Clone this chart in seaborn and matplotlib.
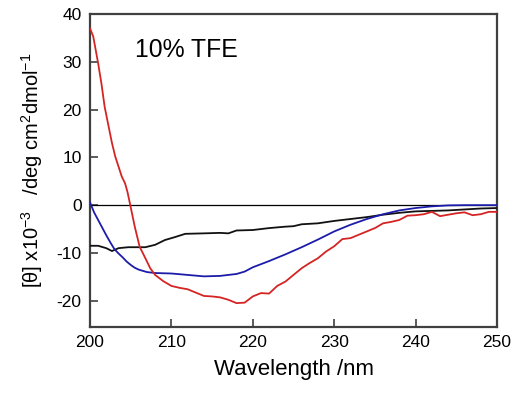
import pandas as pd
import seaborn as sns
from matplotlib import pyplot as plt

# CD spectra, 10% TFE  (wavelength nm, [theta] x10^-3)
red_wl = [200, 200.4, 201, 201.4, 201.8, 202.2, 202.7, 203.1, 203.5, 203.9, 204.3, 204.6,
          204.9, 205.5, 206.1, 206.8, 207.4, 208, 209, 210, 211, 212, 213, 214, 215, 216,
          217, 218, 219, 220, 221, 222, 223, 224, 225, 226, 227, 228, 229, 230, 231, 232,
          233, 234, 235, 236, 237, 238, 239, 240, 241, 242, 243, 244, 245, 246, 247, 248,
          249, 250]
red_val = [37.0, 35.3, 29.7, 25.5, 20.6, 17.2, 13.0, 10.2, 8.1, 6.0, 4.6, 2.8,
           0.4, -4.5, -8.7, -11.1, -13.2, -14.6, -15.9, -16.9, -17.3, -17.6, -18.3, -19.0,
           -19.1, -19.3, -19.8, -20.5, -20.4, -19.1, -18.4, -18.5, -16.9, -16.0, -14.6,
           -13.2, -12.1, -11.1, -9.7, -8.6, -7.1, -6.9, -6.2, -5.5, -4.8, -3.8, -3.5, -3.1,
           -2.2, -2.1, -1.9, -1.4, -2.3, -2.0, -1.7, -1.5, -2.1, -1.9, -1.4, -1.4]

blue_wl = [200, 200.5, 201, 201.5, 202, 202.5, 203, 203.5, 204, 204.5, 205, 205.5, 206,
           207, 208, 210, 212, 214, 216, 218, 219, 220, 222, 224, 226, 228, 230, 232, 234,
           236, 238, 240, 242, 244, 246, 248, 250]
blue_val = [0.6, -1.5, -3.1, -4.7, -6.3, -7.8, -9.2, -10.1, -10.9, -11.8, -12.5, -13.1,
            -13.5, -14.0, -14.2, -14.3, -14.6, -14.9, -14.8, -14.4, -13.9, -13.0, -11.7,
            -10.3, -8.8, -7.2, -5.5, -4.1, -2.9, -1.9, -1.1, -0.6, -0.25, -0.05, 0.0, 0.0,
            0.0]

black_wl = [200, 201, 202, 202.7, 203.5, 204.7, 206.8, 208, 209.2, 210.4, 211.7, 214, 216,
            217, 218, 220, 222, 224, 225, 226, 228, 230, 232, 234, 236, 238, 240, 242, 244,
            246, 248, 250]
black_val = [-8.5, -8.5, -9.0, -9.6, -9.0, -8.8, -8.8, -8.3, -7.3, -6.7, -6.0, -5.9, -5.8,
             -5.9, -5.3, -5.2, -4.8, -4.5, -4.4, -4.0, -3.8, -3.3, -2.9, -2.5, -2.0, -1.6,
             -1.3, -1.2, -1.1, -0.9, -0.7, -0.6]

xticks = [200, 210, 220, 230, 240, 250]
yticks = [-20, -10, 0, 10, 20, 30, 40]

frames = []
for name, wl, val in [("black", black_wl, black_val), ("blue", blue_wl, blue_val), ("red", red_wl, red_val)]:
    frames.append(pd.DataFrame({"wl": wl, "theta": val, "sample": name}))
df = pd.concat(frames, ignore_index=True)

sns.set_style("ticks")
plt.rcParams["font.family"] = ["Liberation Sans", "DejaVu Sans"]
plt.rcParams["mathtext.default"] = "regular"
plt.rcParams["axes.unicode_minus"] = False
plt.rcParams["text.color"] = "black"
plt.rcParams["axes.labelcolor"] = "black"
plt.rcParams["xtick.labelcolor"] = "black"
plt.rcParams["ytick.labelcolor"] = "black"

fig = plt.figure(figsize=(5.16, 3.96), dpi=100)
ax = fig.add_axes([0.1744, 0.1742, 0.7888, 0.7904])

ax.axhline(0, color="black", lw=0.9, zorder=1)
palette = {"black": "#111111", "blue": "#1c1caa", "red": "#d42424"}
sns.lineplot(data=df, x="wl", y="theta", hue="sample", palette=palette, legend=False,
             sort=False, estimator=None, lw=1.3, ax=ax, zorder=3)

ax.set_xlim(200, 250)
ax.set_ylim(-25.5, 40)
ax.set_xticks(xticks)
ax.set_yticks(yticks)
ax.tick_params(direction="in", length=6, width=1.2, color="#404040", labelsize=12.5, pad=6)
for sp in ax.spines.values():
    sp.set_color("#404040")
    sp.set_linewidth(1.6)

ax.set_xlabel("Wavelength /nm", fontsize=16, labelpad=6)
ax.set_ylabel("[θ] x10$^{-3}$   /deg cm$^2$dmol$^{-1}$", fontsize=14.5, labelpad=8)
ax.text(0.11, 0.862, "10% TFE", transform=ax.transAxes, fontsize=17.8)

fig.savefig("out.png", dpi=100)
